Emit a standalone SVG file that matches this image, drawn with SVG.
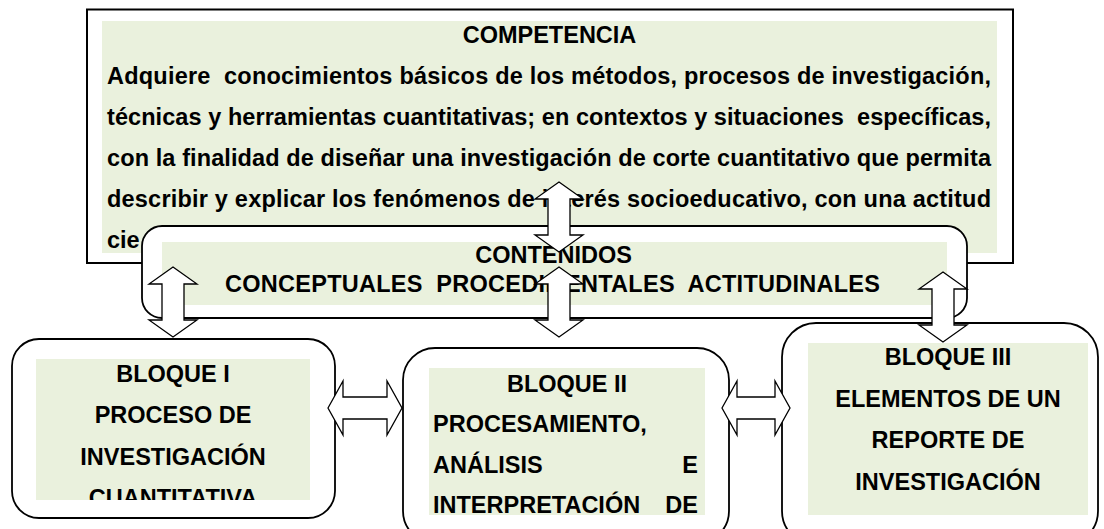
<svg xmlns="http://www.w3.org/2000/svg" width="1104" height="529" viewBox="0 0 1104 529">
<style>
text{font-family:"Liberation Sans",Arial,sans-serif;font-weight:bold;font-size:23.5px;fill:#000;white-space:pre}
.c{text-anchor:middle}
.e{text-anchor:end}
.g{fill:#EAF1DD}
.box{fill:#fff;stroke:#000;stroke-width:1.8}
.arr{fill:#fff;stroke:#000;stroke-width:1.3;stroke-linejoin:miter}
</style>
<defs>
<clipPath id="clipB1"><rect x="36" y="359" width="274" height="141"/></clipPath>
</defs>
<g id="competencia">
<rect x="87" y="9.5" width="926" height="253.5" fill="#fff" stroke="#000" stroke-width="2"/>
<rect class="g" x="102" y="21" width="895" height="232"/>
<text class="c" x="549.5" y="43">COMPETENCIA</text>
<text x="107" y="84" textLength="884" lengthAdjust="spacing">Adquiere  conocimientos básicos de los métodos, procesos de investigación,</text>
<text x="107" y="125" textLength="884" lengthAdjust="spacing">técnicas y herramientas cuantitativas; en contextos y situaciones  específicas,</text>
<text x="107" y="166" textLength="884" lengthAdjust="spacing">con la finalidad de diseñar una investigación de corte cuantitativo que permita</text>
<text x="107" y="207" textLength="884" lengthAdjust="spacing">describir y explicar los fenómenos de interés socioeducativo, con una actitud</text>
<text x="107" y="248">cie</text>
</g>
<g id="contenidos">
<rect class="box" x="142" y="226" width="825" height="92" rx="20" ry="20"/>
<rect class="g" x="162" y="242" width="785" height="63"/>
<text class="c" x="553.5" y="263">CONTENIDOS</text>
<text x="225" y="292" textLength="655" lengthAdjust="spacing">CONCEPTUALES  PROCEDIMENTALES  ACTITUDINALES</text>
</g>
<g id="bloque1">
<rect class="box" x="12" y="339" width="323" height="179" rx="27" ry="27"/>
<rect class="g" x="36" y="359" width="274" height="141"/>
<g clip-path="url(#clipB1)">
<text class="c" x="173" y="382">BLOQUE I</text>
<text class="c" x="173" y="423">PROCESO DE</text>
<text class="c" x="173" y="465">INVESTIGACIÓN</text>
<text class="c" x="173" y="506">CUANTITATIVA</text>
</g>
</g>
<g id="bloque2">
<rect class="box" x="403" y="348" width="326" height="195" rx="32" ry="32"/>
<rect class="g" x="429" y="368" width="276" height="147"/>
<text class="c" x="567" y="392">BLOQUE II</text>
<text x="433" y="432">PROCESAMIENTO,</text>
<text x="433" y="473">ANÁLISIS</text>
<text class="e" x="698" y="473">E</text>
<text x="433" y="513">INTERPRETACIÓN</text>
<text class="e" x="698" y="513">DE</text>
</g>
<g id="bloque3">
<rect class="box" x="782" y="323" width="316" height="222" rx="34" ry="34"/>
<rect class="g" x="808" y="343" width="280" height="172"/>
<text class="c" x="948" y="365">BLOQUE III</text>
<text class="c" x="948" y="407">ELEMENTOS DE UN</text>
<text class="c" x="948" y="448">REPORTE DE</text>
<text class="c" x="948" y="490">INVESTIGACIÓN</text>
</g>
<g id="connectors">
<path class="arr" d="M559,182 L583,199 L570,199 L570,235 L583,235 L559,252 L535,235 L548,235 L548,199 L535,199 Z"/>
<path class="arr" d="M559,267 L583,284 L570,284 L570,320 L583,320 L559,337 L535,320 L548,320 L548,284 L535,284 Z"/>
<path class="arr" d="M173,267 L197,284 L184,284 L184,320 L197,320 L173,337 L149,320 L162,320 L162,284 L149,284 Z"/>
<path class="arr" d="M943,272 L967,289 L954,289 L954,325 L967,325 L943,342 L919,325 L932,325 L932,289 L919,289 Z"/>
<path class="arr" d="M328,408 L343,381 L343,397 L387,397 L387,381 L402,408 L387,435 L387,419 L343,419 L343,435 Z"/>
<path class="arr" d="M722,408 L737,381 L737,397 L775,397 L775,381 L790,408 L775,435 L775,419 L737,419 L737,435 Z"/>
</g>
</svg>
